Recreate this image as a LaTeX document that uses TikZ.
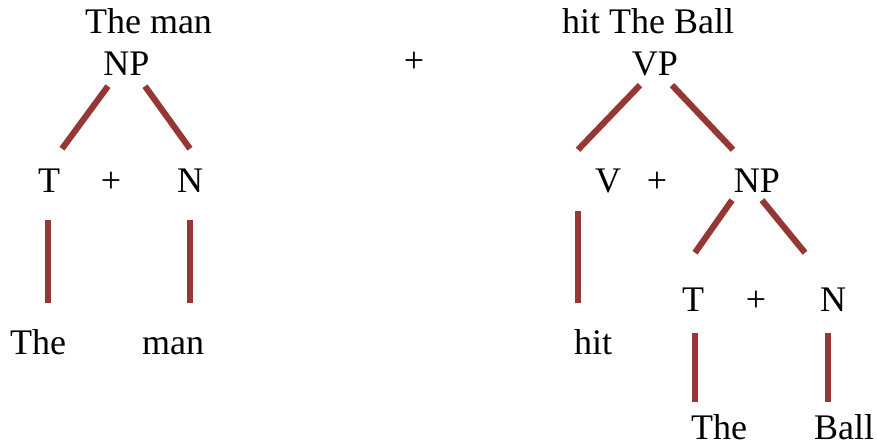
\documentclass[tikz,border=0pt]{standalone}
\usepackage{fontspec}
\setmainfont{Liberation Serif}
\definecolor{branchRed}{RGB}{149,55,53}
\begin{document}
\begin{tikzpicture}[x=0.025cm, y=0.025cm,
    word/.style={anchor=base, inner sep=0pt, text height=17.4pt, text depth=5.6pt,
        font=\fontsize{25.6}{30}\selectfont},
    branch/.style={line width=4.4pt, branchRed},
]
\useasboundingbox (0,0) rectangle (877,448);
% left tree: the man
\node[word] (topL) at (148.5,414) {The man};
\node[word] (np1) at (126.5,372) {NP};
\node[word] (t1) at (49,255) {T};
\node[word] (plus1) at (111,255) {+};
\node[word] (n1) at (190,255) {N};
\node[word] (the1) at (38,93) {The};
\node[word] (man1) at (173,93) {man};
\node[word] (plusTop) at (414,375) {+};
% right tree: hit the ball
\node[word] (topR) at (648,414) {hit The Ball};
\node[word] (vp) at (655,372) {VP};
\node[word] (v) at (608,255) {V};
\node[word] (plus2) at (657,255) {+};
\node[word] (np2) at (757,255) {NP};
\node[word] (hit) at (593,93) {hit};
\node[word] (t2) at (693,136) {T};
\node[word] (plus3) at (756,136) {+};
\node[word] (n2) at (833,136) {N};
\node[word] (the2) at (719,8) {The};
\node[word] (ball) at (844,8) {Ball};
% branches
\draw[branch] ([shift={(-18.5,-2)}]np1.south) -- ([shift={(13,19.5)}]t1.north);
\draw[branch] ([shift={(18.5,-2)}]np1.south) -- ([shift={(0,19.5)}]n1.north);
\draw[branch] ([shift={(-1,-19)}]t1.south) -- ([shift={(10,27.5)}]the1.north);
\draw[branch] ([shift={(0,-19)}]n1.south) -- ([shift={(17,27.5)}]man1.north);
\draw[branch] ([shift={(-15,-1)}]vp.south) -- ([shift={(-30,18.5)}]v.north);
\draw[branch] ([shift={(17,-1)}]vp.south) -- ([shift={(-24,18.5)}]np2.north);
\draw[branch] ([shift={(-30,-10)}]v.south) -- ([shift={(-15,27.5)}]hit.north);
\draw[branch] ([shift={(-25,1)}]np2.south) -- ([shift={(2,34.5)}]t2.north);
\draw[branch] ([shift={(5,1)}]np2.south) -- ([shift={(-28,34.5)}]n2.north);
\draw[branch] ([shift={(2,-13)}]t2.south) -- ([shift={(-24,13.5)}]the2.north);
\draw[branch] ([shift={(-5,-13)}]n2.south) -- ([shift={(-16,13.5)}]ball.north);
\end{tikzpicture}
\end{document}
